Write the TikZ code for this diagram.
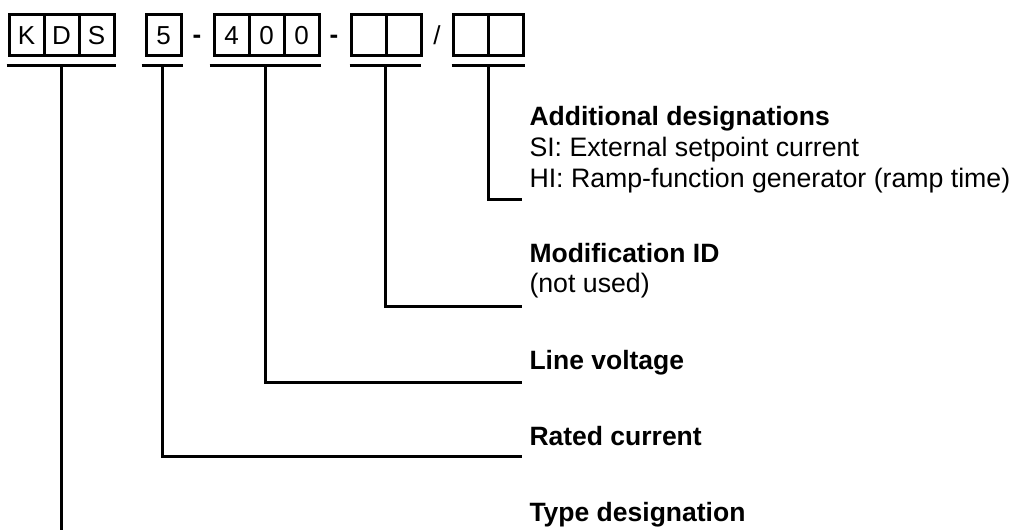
\documentclass[tikz,border=0pt]{standalone}
\usepackage{fontspec}
\setmainfont{Liberation Sans}

\begin{document}
\begin{tikzpicture}[x=0.5pt,y=-0.5pt,line width=1.5pt,
  cell/.style={draw,minimum width=17.5pt,minimum height=20.5pt,inner sep=0pt,font=\fontsize{13}{15}\selectfont},
  sep/.style={inner sep=0pt,font=\fontsize{13}{15}\selectfont},
  lbl/.style={anchor=base west,inner sep=0pt,font=\fontsize{13.35}{16}\selectfont},
  head/.style={lbl,font=\fontsize{13.25}{16}\selectfont\bfseries}]
  \useasboundingbox (0,0) rectangle (1015,529);
  % code cells
  \foreach \n/\x/\t in {k/26.5/K,d/61.5/D,s/96.5/S,r/163.5/5,va/231.5/4,vb/266.5/0,vc/301.5/0,ma/368.5/,mb/403.5/,aa/470.5/,ab/505.5/}
    \node[cell] (\n) at (\x,35.5) {\t};
  \node[sep] (da) at (197,39) {\textbf{-}};
  \node[sep] (db) at (334,39) {\textbf{-}};
  \node[sep] (sl) at (437,35.5) {/};
  % underlines
  \draw ([yshift=-4pt,xshift=-0.5pt]k.south west) -- coordinate (tk) ([yshift=-4pt]s.south east);
  \draw ([yshift=-4pt,xshift=-1.5pt]r.south west) -- coordinate (tr) ([yshift=-4pt]r.south east);
  \draw ([yshift=-4pt,xshift=-1.5pt]va.south west) -- coordinate (tv) ([yshift=-4pt]vc.south east);
  \draw ([yshift=-4pt]ma.south west) -- coordinate (tm) ([yshift=-4pt,xshift=-1pt]mb.south east);
  \draw ([yshift=-4pt]aa.south west) -- coordinate (ta) ([yshift=-4pt]ab.south east);
  % labels
  \node[head] (addl) at (528,126) {Additional designations};
  \node[lbl] (addsi) at (528,157) {SI: External setpoint current};
  \node[lbl] (addhi) at (528,187) {HI: Ramp-function generator (ramp time)};
  \node[head] (mod) at (528,262) {Modification ID};
  \node[lbl] (modnu) at (528,292) {(not used)};
  \node[head] (volt) at (528,369) {Line voltage};
  \node[head] (rated) at (528,445) {Rated current};
  \node[head] (type) at (528,521) {Type designation};
  % line ends
  \coordinate (ea) at (522,199);
  \coordinate (em) at (522,306);
  \coordinate (ev) at (522,382);
  \coordinate (er) at (522,456);
  \coordinate (bottom) at (0,532);
  \draw (ta) |- (ea);
  \draw (tm) |- (em);
  \draw (tv) |- (ev);
  \draw (tr) |- (er);
  \draw (tk) -- (tk |- bottom);
\end{tikzpicture}
\end{document}
